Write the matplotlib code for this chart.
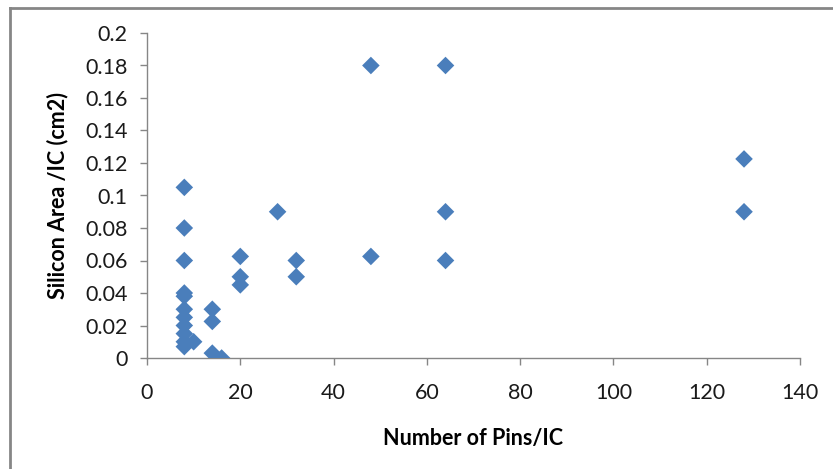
import matplotlib
matplotlib.use("Agg")
import matplotlib.pyplot as plt
from matplotlib.lines import Line2D
from matplotlib.ticker import FuncFormatter

pins = [8, 8, 8, 8, 8, 8, 8, 8, 8, 8, 8, 10, 14, 14, 14, 16, 20, 20, 20,
        28, 32, 32, 48, 48, 64, 64, 64, 128, 128]
area = [0.105, 0.08, 0.06, 0.04, 0.038, 0.03, 0.025, 0.02, 0.015, 0.01, 0.007, 0.01,
        0.03, 0.0225, 0.003, 0.0, 0.0625, 0.05, 0.045,
        0.09, 0.06, 0.05, 0.18, 0.0625, 0.18, 0.09, 0.06, 0.1225, 0.09]
x_ticks = [0, 20, 40, 60, 80, 100, 120, 140]
y_ticks = [0, 0.02, 0.04, 0.06, 0.08, 0.1, 0.12, 0.14, 0.16, 0.18, 0.2]

plt.rcParams['font.family'] = ['Lato', 'DejaVu Sans']

W, H = 833, 469
fig = plt.figure(figsize=(W / 100, H / 100), dpi=100)
ax = fig.add_axes([147 / W, (H - 358) / H, (800 - 147) / W, (358 - 33) / H])

ax.scatter(pins, area, marker='D', s=80, color='#4a7ebb', edgecolors='none', zorder=3)

ax.set_xlim(0, 140)
ax.set_ylim(0, 0.2)
ax.set_xticks(x_ticks)
ax.set_yticks(y_ticks)
ax.yaxis.set_major_formatter(FuncFormatter(lambda v, p: ('%g' % round(v, 4))))
ax.xaxis.set_major_formatter(FuncFormatter(lambda v, p: '%d' % v))

for s in ['top', 'right']:
    ax.spines[s].set_visible(False)
for s in ['left', 'bottom']:
    ax.spines[s].set_color('#868686')
    ax.spines[s].set_linewidth(1)
ax.tick_params(axis='both', colors='#868686', length=5, width=1, direction='out',
               labelsize=15.5, labelcolor='#1a1a1a')
ax.tick_params(axis='x', pad=13)
ax.tick_params(axis='y', pad=9)

ax.set_xlabel('Number of Pins/IC', fontsize=15.5, fontweight='bold', labelpad=18)
ax.set_ylabel('Silicon Area /IC (cm2)', fontsize=15.5, fontweight='bold', labelpad=12)

# outer chart frame
fig.add_artist(Line2D([10 / W, 10 / W], [0, 1 - 8 / H], transform=fig.transFigure,
                      color='#868686', linewidth=2))
fig.add_artist(Line2D([10 / W, 1], [1 - 8 / H, 1 - 8 / H], transform=fig.transFigure,
                      color='#868686', linewidth=2))

fig.savefig('out.png', dpi=100)
